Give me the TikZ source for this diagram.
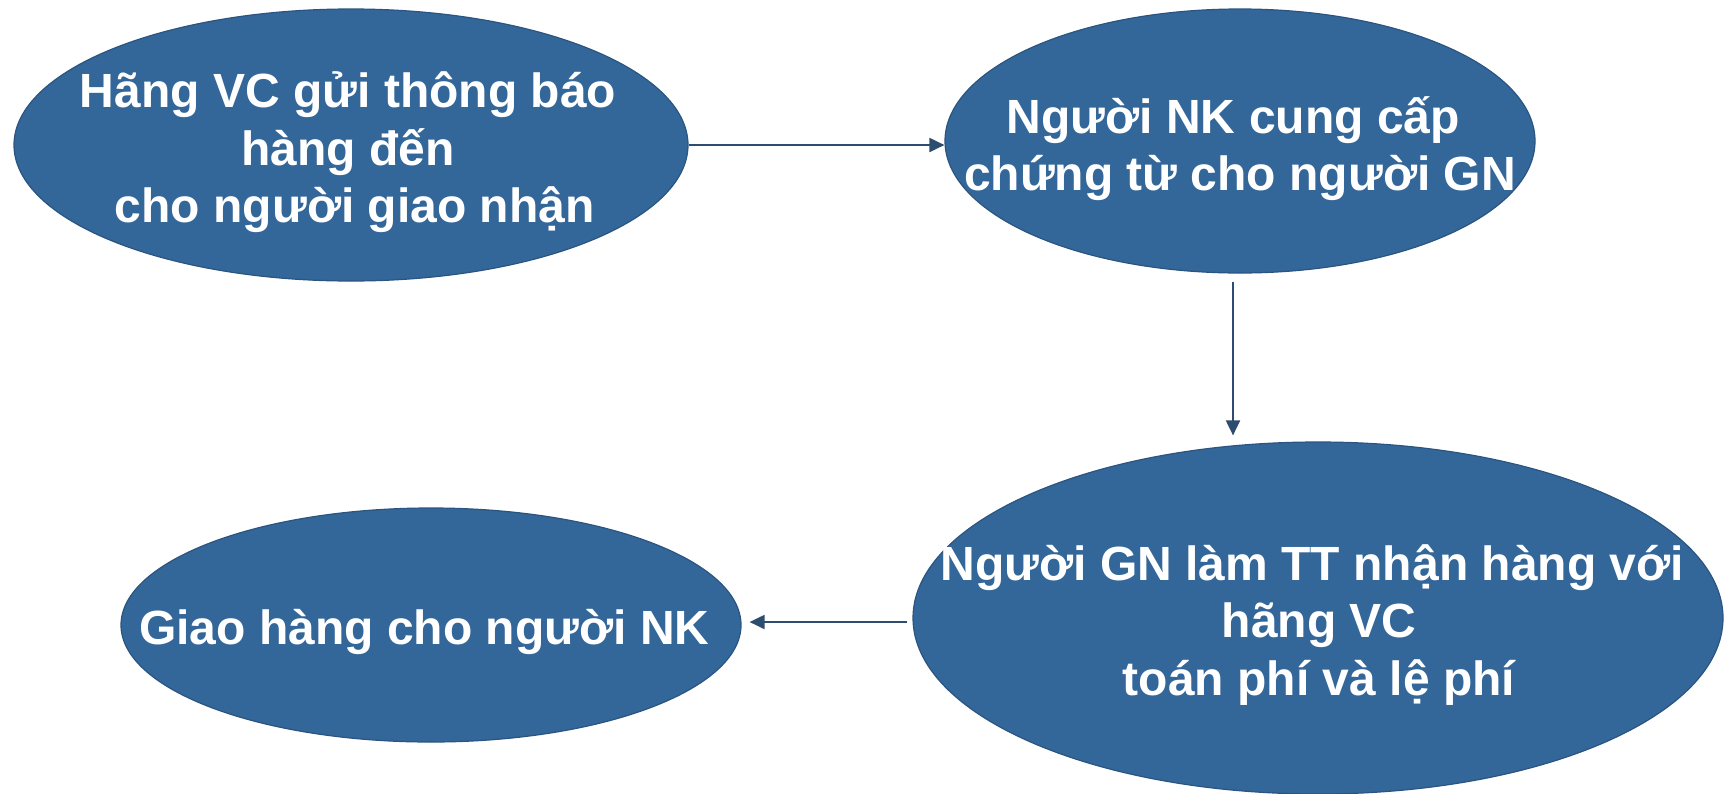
\documentclass[tikz,border=0pt]{standalone}
\usepackage{fontspec}
\setmainfont{Liberation Sans}
\usetikzlibrary{shapes.geometric,arrows.meta}
\definecolor{efill}{HTML}{336699}
\definecolor{edraw}{HTML}{2B5580}
\definecolor{arrc}{HTML}{2C4D70}
\tikzset{
  bubble/.style={ellipse, fill=efill, draw=edraw, line width=1.2pt, inner sep=0pt},
  txt/.style={text=white, align=center, font=\fontsize{48}{57.5}\selectfont\bfseries, inner sep=0pt},
  arr/.style={draw=arrc, line width=2pt, -{Triangle[length=15pt,width=14pt]}},
}
\begin{document}
\begin{tikzpicture}[x=1pt,y=-1pt]
\useasboundingbox (0,0) rectangle (1729,793);
\node[bubble, minimum width=674pt, minimum height=272pt] (e1) at (351,145) {};
\node[bubble, minimum width=590pt, minimum height=264pt] (e2) at (1240,141) {};
\node[bubble, minimum width=810pt, minimum height=352pt] (e3) at (1318,618) {};
\node[bubble, minimum width=620pt, minimum height=234pt] (e4) at (431,625) {};
\node[txt] (t1) at (348,152.5) {Hãng VC gửi thông báo\\hàng đến\\\hspace*{0.28em}cho người giao nhận};
\node[txt] (t2) at (1240,148.5) {Người NK cung cấp\hspace*{0.28em}\\chứng từ cho người GN};
\node[txt] (t3) at (1319,625) {Người GN làm TT nhận hàng với\hspace*{0.28em}\\hãng VC\\toán phí và lệ phí};
\node[txt] (t4) at (431,631.5) {Giao hàng cho người NK\hspace*{0.28em}};
\draw[arr] (e1.east) -- (e1.east -| e2.west);
\draw[arr, shorten <=8pt, shorten >=6pt] ([xshift=-7pt]e2.south) -- ([xshift=-7pt]e2.south |- e3.north);
\draw[arr, shorten <=5pt, shorten >=8pt] ([yshift=-4pt]e3.west) -- ([yshift=-4pt]e3.west -| e4.east);
\end{tikzpicture}
\end{document}
